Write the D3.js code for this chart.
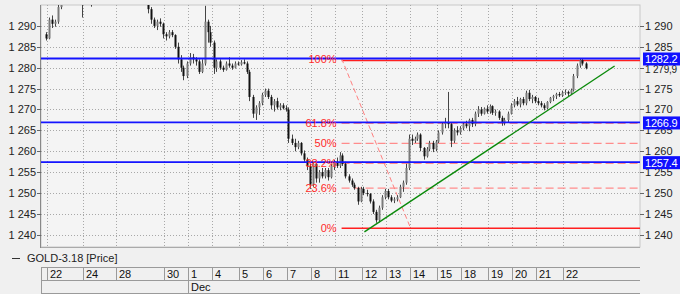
<!DOCTYPE html>
<html>
<head>
<meta charset="utf-8">
<script src="https://cdn.jsdelivr.net/npm/d3@7"></script>
<style>
  body { margin: 0; background: #f0f0f0; }
  svg { display: block; font-family: "Liberation Sans", Arial, sans-serif; font-size: 11px; }
</style>
</head>
<body>
<div id="chart"></div>
<script>
// day labels on the time axis and the bar index where each day starts
const dayLabels = ["22", "24", "28", "30", "1", "4", "5", "6", "7", "8", "11", "12", "13", "14", "15", "18", "19", "20", "21", "22"];
const dayStarts = [2, 14, 25, 41, 49, 57, 66, 74, 82, 90, 98, 107, 115, 123, 132, 140, 149, 157, 165, 174];
const monthLabels = [{label: "Dec", start: 49}];

const yTicks = [1240, 1245, 1250, 1255, 1260, 1265, 1270, 1275, 1280, 1285, 1290];
const rightTicks = [1240, 1245, 1250, 1255, 1260, 1265, 1270, 1275, 1285, 1290];

// horizontal price lines
const priceLines = [1282.2, 1266.9, 1257.4];
const lastPrice = 1279.9;

// fibonacci retracement
const fibHigh = 1282.2, fibLow = 1241.6;
const fibStartBar = 100.2, fibEndBar = 123.2;
const fibLevels = [1, 0.618, 0.5, 0.382, 0.236, 0];
const fibNames = ["100%", "61.8%", "50%", "38.2%", "23.6%", "0%"];

// trend line
const trendLine = [{bar: 107.8, price: 1240.7}, {bar: 191.2, price: 1280.4}];

// candles [open, high, low, close], first one at bar 1
const firstBar = 1;
const bars = [
  [1288,1288.5,1286.5,1287],[1287,1292,1286.8,1291.5],[1291.5,1292.5,1289.5,1290.5],[1290.5,1291.5,1289.8,1291],
  [1291,1296,1290.5,1294.5],[1294.5,1299,1294,1297.5],[1297.5,1300,1296.5,1299],[1299,1300.5,1297.5,1298],
  [1298,1299.5,1296.5,1297],[1297,1298,1295.5,1296.5],[1296.5,1297.5,1295.3,1296],[1296,1297,1295.5,1296.8],
  [1296.8,1297.5,1292,1296],[1296,1298,1295.5,1297.5],[1297.5,1298.5,1296.5,1297],[1297,1297.5,1294.6,1296],
  [1296,1298,1295.5,1297.5],[1297.5,1299,1296.8,1298.5],[1298.5,1299.5,1297.5,1298],[1298,1298.8,1296.5,1297],
  [1297,1298,1296,1297.5],[1297.5,1299,1297,1298.5],[1298.5,1300,1298,1299.5],[1299.5,1301,1298.5,1300],
  [1300,1301.5,1299,1300.5],[1300.5,1301,1299,1299.5],[1299.5,1300,1298,1298.5],[1298.5,1299.5,1297.5,1299],
  [1299,1300,1298,1298.5],[1298.5,1299,1297,1297.5],[1297.5,1298.5,1296.5,1298],[1298,1299,1297,1297.5],
  [1297.5,1298,1296,1296.5],[1296.5,1297.5,1295.5,1297],[1297,1298,1293,1294],[1294,1294.5,1290.5,1291.5],
  [1291.5,1292,1289.5,1290],[1290,1291.5,1289,1291],[1291,1291.8,1289.8,1290.5],[1290.5,1290.8,1287,1288],
  [1288,1288.5,1286.5,1287.5],[1287.5,1289,1287,1288.5],[1288.5,1289,1287.3,1287.8],[1287.8,1288,1284.5,1285],
  [1285,1286,1281,1282],[1282,1283,1279,1280],[1280,1280.5,1277,1278],[1278,1281.5,1277.5,1281],
  [1281,1283.5,1280.5,1282.5],[1282.5,1283.3,1281,1282],[1282,1282.5,1280.5,1281.5],[1281.5,1282,1278.5,1279],
  [1279,1282,1278.7,1281],[1281,1294.8,1280.5,1291],[1291,1291.5,1286,1288.5],[1288.5,1290,1285,1286],
  [1286,1286.5,1278.5,1280],[1280,1282,1279,1281.5],[1281.5,1282,1279.5,1280],[1280,1280.5,1279,1279.5],
  [1279.5,1281.5,1279.3,1281],[1281,1282.5,1280,1280.5],[1280.5,1281,1279.5,1280],[1280,1281.5,1279.8,1281],
  [1281,1281.5,1280.5,1280.8],[1280.8,1281.8,1280.5,1281.3],[1281.3,1282,1280.8,1281],[1281,1281.5,1278.5,1279],
  [1279,1279.5,1272,1273],[1273,1273.5,1268,1269],[1269,1271,1267.5,1270.5],[1270.5,1272,1268.7,1271.5],
  [1271.5,1274,1271,1273.5],[1273.5,1275,1273,1274.5],[1274.5,1275,1272.5,1273],[1273,1273.5,1270,1271],
  [1271,1272.5,1269.5,1272],[1272,1272.8,1270,1270.5],[1270.5,1271.5,1269.8,1271],[1271,1271.5,1270,1270.3],
  [1270.3,1271,1269.5,1270],[1270,1270.5,1262,1263],[1263,1264,1261.5,1262],[1262,1263,1260,1261],
  [1261,1262.5,1260.5,1262],[1262,1262.2,1259,1259.5],[1259.5,1260.2,1257.5,1258],[1258,1258.5,1255.5,1256.5],
  [1256.5,1257,1251,1252],[1252,1257.5,1251.5,1257],[1257,1257.5,1252.5,1253.5],[1253.5,1255.5,1252.5,1255],
  [1255,1256,1253.5,1254],[1254,1256,1253.5,1255.5],[1255.5,1256,1253,1253.8],[1253.8,1257,1253.5,1256.5],
  [1256.5,1258,1255.5,1257.5],[1257.5,1258.5,1256,1256.5],[1256.5,1259.8,1256,1259],[1259,1259.5,1256.5,1257],
  [1257,1257.5,1253.5,1254],[1254,1254.5,1252.5,1253],[1253,1253.5,1251.5,1252],[1252,1252.5,1250.8,1251.2],
  [1251.2,1251.5,1247.2,1248],[1248,1251.5,1247.8,1251],[1251,1251.5,1249.5,1250],[1250,1250.8,1249.2,1249.8],
  [1249.8,1250,1247.5,1248],[1248,1248.5,1245,1245.5],[1245.5,1246,1242.9,1243.5],[1243.5,1247,1243,1246.5],
  [1246.5,1249.5,1246,1249],[1249,1251,1248.5,1250.5],[1250.5,1251,1248.5,1249],[1249,1249.5,1247.8,1248.2],
  [1248.2,1249,1247.6,1248.5],[1248.5,1249.5,1248,1249],[1249,1252,1248.8,1251.5],[1251.5,1253,1250.3,1252.5],
  [1252.5,1257,1252,1256],[1256,1264,1255.5,1263],[1263,1264,1261.5,1262.5],[1262.5,1263.5,1262,1263],
  [1263,1264.5,1262.5,1264],[1264,1264.3,1260,1260.8],[1260.8,1261,1258,1258.8],[1258.8,1261,1258.5,1260.5],
  [1260.5,1262.5,1260,1262],[1262,1262.5,1259.8,1260.5],[1260.5,1262.7,1260,1262.3],[1262.3,1265,1262,1264.5],
  [1264.5,1267,1264,1266.5],[1266.5,1268,1265.5,1267],[1267,1274.2,1265.5,1266.5],[1266.5,1267,1261,1262.5],
  [1262.5,1265.5,1262,1265],[1265,1266,1263.8,1264.5],[1264.5,1266,1264,1265.5],[1265.5,1267,1265,1266.5],
  [1266.5,1267.3,1265.5,1266],[1266,1267.8,1264.8,1267.5],[1267.5,1268,1265.8,1266.5],[1266.5,1269.5,1266,1269],
  [1269,1270.8,1268.2,1270],[1270,1270.6,1268.5,1269],[1269,1270.5,1268.8,1270.2],[1270.2,1271,1269,1269.5],
  [1269.5,1271.2,1269,1270.8],[1270.8,1271,1268.7,1269.2],[1269.2,1270,1268.5,1269.5],[1269.5,1269.8,1267.5,1268],
  [1268,1268.5,1266.1,1266.8],[1266.8,1268,1266.2,1267.5],[1267.5,1269.5,1267,1269],[1269,1271.5,1268.8,1271],
  [1271,1272.5,1270.5,1272],[1272,1273,1270.8,1271.2],[1271.2,1272.8,1270.5,1272.5],[1272.5,1273,1271,1271.5],
  [1271.5,1274.5,1271,1274],[1274,1274.7,1272,1272.5],[1272.5,1273.5,1271.5,1273],[1273,1273.2,1271.5,1272],
  [1272,1272.8,1271,1271.5],[1271.5,1272,1270.5,1271],[1271,1271.5,1269.8,1270.3],[1270.3,1272,1270,1271.8],
  [1271.8,1273,1271.5,1272.8],[1272.8,1273.5,1272,1273.2],[1273.2,1274,1272.5,1273.7],[1273.7,1274.2,1273,1273.4],
  [1273.4,1274.5,1273,1274],[1274,1274.8,1273.5,1274.2],[1274.2,1274.5,1273.2,1273.8],[1273.8,1275,1273.5,1274.6],
  [1274.6,1278.5,1274.3,1278],[1278,1281,1277.5,1280.5],[1280.5,1282.3,1280,1281.8],[1281.8,1282.2,1280.5,1281],
  [1281,1281.3,1279.6,1279.9]
];

const W = 680, H = 294;
const plot = {left: 41, right: 640, top: 5, bottom: 247};

const svg = d3.select("#chart").append("svg")
  .attr("width", W)
  .attr("height", H);

svg.append("rect").attr("width", W).attr("height", H).attr("fill", "#f0f0f0");

let x = d3.scaleLinear().domain([0, 200]).range([plot.left, plot.left + 600]);
let y = d3.scaleLinear().domain([1237.1, 1295.0]).range([plot.bottom, plot.top]);
const cx = i => x(i + 0.5);

// plot background + frame
svg.append("rect")
  .attr("x", plot.left).attr("y", plot.top)
  .attr("width", plot.right - plot.left).attr("height", plot.bottom - plot.top)
  .attr("fill", "#f4f4f4")
  .attr("stroke", "#c8c8c8");

svg.append("defs").append("clipPath").attr("id", "clip")
  .append("rect")
  .attr("x", plot.left).attr("y", plot.top)
  .attr("width", plot.right - plot.left).attr("height", plot.bottom - plot.top);

let g = svg.append("g").attr("clip-path", "url(#clip)");

// grid
g.selectAll(".hgrid").data(yTicks).enter().append("line")
  .attr("x1", plot.left).attr("x2", plot.right)
  .attr("y1", d => Math.round(y(d)) + 0.5).attr("y2", d => Math.round(y(d)) + 0.5)
  .attr("stroke", "#a8a8a8").attr("stroke-dasharray", "1,2");

g.selectAll(".vgrid").data(dayStarts).enter().append("line")
  .attr("x1", d => Math.round(x(d)) + 0.5).attr("x2", d => Math.round(x(d)) + 0.5)
  .attr("y1", plot.top).attr("y2", plot.bottom)
  .attr("stroke", "#a8a8a8").attr("stroke-dasharray", "1,2");

// left/bottom axis lines
svg.append("line").attr("x1", plot.left - 0.5).attr("x2", plot.left - 0.5)
  .attr("y1", plot.top).attr("y2", plot.bottom + 1).attr("stroke", "#888");
svg.append("line").attr("x1", plot.left).attr("x2", plot.right)
  .attr("y1", plot.bottom + 0.5).attr("y2", plot.bottom + 0.5).attr("stroke", "#aaa");

// fibonacci levels
const fibPrice = p => fibLow + p * (fibHigh - fibLow);
g.selectAll(".fib").data(fibLevels).enter().append("line")
  .attr("x1", x(fibStartBar)).attr("x2", plot.right)
  .attr("y1", d => y(fibPrice(d)) + (d === 1 ? 2 : 0))
  .attr("y2", d => y(fibPrice(d)) + (d === 1 ? 2 : 0))
  .attr("stroke", d => (d === 0 || d === 1) ? "#ff1f1f" : "#ff8c8c")
  .attr("stroke-width", d => (d === 0 || d === 1) ? 1.6 : 1.4)
  .attr("stroke-dasharray", d => (d === 0 || d === 1) ? null : "8,4");

g.append("line")
  .attr("x1", x(fibStartBar)).attr("y1", y(fibHigh))
  .attr("x2", x(fibEndBar)).attr("y2", y(fibLow))
  .attr("stroke", "#ff8080").attr("stroke-width", 1)
  .attr("stroke-dasharray", "5,3");

svg.selectAll(".fibtxt").data(fibLevels).enter().append("text")
  .attr("x", x(fibStartBar) - 5)
  .attr("y", d => y(fibPrice(d)) + 4 + (d === 1 ? 1 : 0))
  .attr("text-anchor", "end")
  .attr("fill", "#ff2a2a")
  .text((d, i) => fibNames[i]);

// candles
let candles = g.selectAll(".candle").data(bars).enter().append("g");
candles.append("line")
  .attr("x1", (d, i) => Math.round(cx(i + firstBar)) + 0.5)
  .attr("x2", (d, i) => Math.round(cx(i + firstBar)) + 0.5)
  .attr("y1", d => y(d[1])).attr("y2", d => y(d[2]))
  .attr("stroke", "#444");
candles.append("rect")
  .attr("x", (d, i) => Math.round(cx(i + firstBar)) - 0.5)
  .attr("width", 2)
  .attr("y", d => y(Math.max(d[0], d[3])))
  .attr("height", d => Math.max(1, Math.abs(y(d[0]) - y(d[3]))))
  .attr("fill", d => d[3] >= d[0] ? "#7a7a7a" : "#111");

// price lines
g.selectAll(".pline").data(priceLines).enter().append("line")
  .attr("x1", plot.left).attr("x2", plot.right)
  .attr("y1", d => y(d)).attr("y2", d => y(d))
  .attr("stroke", "#1414ff").attr("stroke-width", 1.8);

// trend line
g.append("line")
  .attr("x1", x(trendLine[0].bar)).attr("y1", y(trendLine[0].price))
  .attr("x2", x(trendLine[1].bar)).attr("y2", y(trendLine[1].price))
  .attr("stroke", "#0a8a0a").attr("stroke-width", 1.4);

// left axis
svg.selectAll(".ltick").data(yTicks).enter().append("line")
  .attr("x1", plot.left - 4).attr("x2", plot.left)
  .attr("y1", d => Math.round(y(d)) + 0.5).attr("y2", d => Math.round(y(d)) + 0.5)
  .attr("stroke", "#666");
svg.selectAll(".llab").data(yTicks).enter().append("text")
  .attr("x", plot.left - 5).attr("y", d => y(d) + 4)
  .attr("text-anchor", "end").attr("fill", "#222")
  .text(d => d3.format(",")(d).replace(",", " "));

// right axis
svg.selectAll(".rtick").data(yTicks).enter().append("line")
  .attr("x1", plot.right).attr("x2", plot.right + 4)
  .attr("y1", d => Math.round(y(d)) + 0.5).attr("y2", d => Math.round(y(d)) + 0.5)
  .attr("stroke", "#666");
svg.selectAll(".rlab").data(rightTicks).enter().append("text")
  .attr("x", plot.right + 5).attr("y", d => y(d) + 4)
  .attr("fill", "#222")
  .text(d => d3.format(",")(d).replace(",", " "));

svg.append("text")
  .attr("x", plot.right + 5).attr("y", y(lastPrice) + 5)
  .attr("fill", "#222")
  .style("font-size", "10px")
  .style("letter-spacing", "-0.2px")
  .text(d3.format(",.1f")(lastPrice).replace(",", " ").replace(".", ","));

let boxes = svg.selectAll(".pbox").data(priceLines).enter().append("g");
boxes.append("rect")
  .attr("x", plot.right + 3).attr("y", d => y(d) - 6)
  .attr("width", 37).attr("height", 13)
  .attr("fill", "#1010ff");
boxes.append("text")
  .attr("x", plot.right + 5).attr("y", d => y(d) + 4.5)
  .attr("fill", "#fff")
  .style("font-size", "11px")
  .style("letter-spacing", "-0.2px")
  .text(d => d.toFixed(1));

// legend
svg.append("line").attr("x1", 12).attr("x2", 20).attr("y1", 258.5).attr("y2", 258.5).attr("stroke", "#333");
svg.append("text").attr("x", 27).attr("y", 262).attr("fill", "#222").text("GOLD-3.18 [Price]");

// time axis box
const axTop = 267, axMid = 280, axBot = 293;
let ax = svg.append("g").attr("stroke", "#9a9a9a").attr("shape-rendering", "crispEdges");
ax.append("line").attr("x1", plot.left).attr("x2", plot.right).attr("y1", axTop + 0.5).attr("y2", axTop + 0.5);
ax.append("line").attr("x1", plot.left).attr("x2", plot.right).attr("y1", axMid + 0.5).attr("y2", axMid + 0.5);
ax.append("line").attr("x1", plot.left).attr("x2", plot.right).attr("y1", axBot + 0.5).attr("y2", axBot + 0.5);
ax.append("line").attr("x1", plot.left + 0.5).attr("x2", plot.left + 0.5).attr("y1", axTop).attr("y2", axBot);
ax.selectAll(".dsep").data(dayStarts).enter().append("line")
  .attr("x1", d => Math.round(x(d)) + 0.5).attr("x2", d => Math.round(x(d)) + 0.5)
  .attr("y1", axTop).attr("y2", axMid);
ax.selectAll(".msep").data(monthLabels).enter().append("line")
  .attr("x1", d => Math.round(x(d.start)) + 0.5).attr("x2", d => Math.round(x(d.start)) + 0.5)
  .attr("y1", axMid).attr("y2", axBot);

svg.selectAll(".dlab").data(dayStarts).enter().append("text")
  .attr("x", d => Math.round(x(d)) + 3).attr("y", axMid - 2)
  .attr("fill", "#111")
  .text((d, i) => dayLabels[i]);
svg.selectAll(".mlab").data(monthLabels).enter().append("text")
  .attr("x", d => Math.round(x(d.start)) + 3).attr("y", axBot - 2)
  .attr("fill", "#111")
  .text(d => d.label);
</script>
</body>
</html>
